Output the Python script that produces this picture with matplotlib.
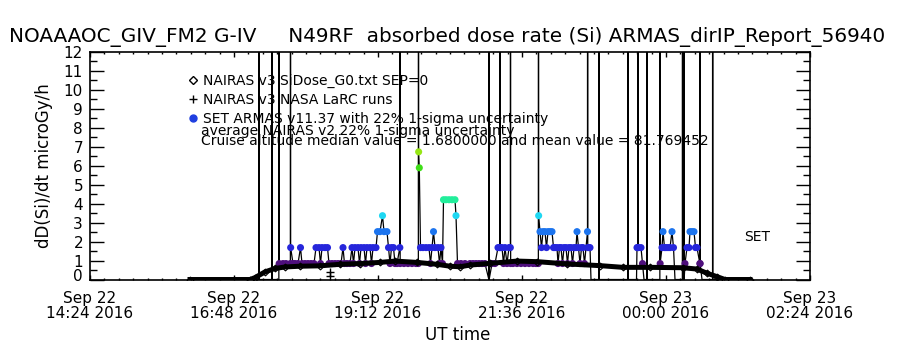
import numpy as np
import matplotlib
matplotlib.use("Agg")
import matplotlib.pyplot as plt
import matplotlib.dates as mdates
import matplotlib.transforms as mtransforms
from matplotlib.colors import LinearSegmentedColormap, Normalize
from matplotlib.lines import Line2D
from datetime import datetime

# ARMAS SET dose rate, minutes after 2016-09-22 14:24 UT (microGy/h, off-scale spikes included)
armas_min = [
    160, 168.85, 169, 169.15, 181.85, 182, 182.15, 188.85, 189, 189.15,
    193, 196, 200.35, 200.5, 200.65, 203, 205, 208, 210.5, 212, 215, 218, 221, 224,
    226, 229, 230.5, 232, 235, 237.5, 239, 242, 245, 248, 251, 253, 254.5, 257, 260,
    262, 263.5, 265, 268, 269.5, 271, 274, 275.5, 277, 280, 281.5, 283, 286,
    287.5, 290, 292.5, 294, 297, 298.5, 300, 301.5, 303.5, 305, 307, 309.85, 310, 310.15,
    314, 318, 322, 326, 328.35, 328.5, 328.65, 329.3, 330.5, 333, 336, 339, 340.5, 342, 343.5,
    345, 348, 349.5, 351, 352.5, 353.5, 356, 359, 362, 365, 366, 367.5,
    371, 375, 380, 383, 386, 389, 392, 395, 398.85, 399, 399.15,
    402, 405, 408, 409.85, 410, 410.15, 412, 413.5, 415, 417, 419, 420.35, 420.5, 420.65, 423,
    427, 431, 435, 439, 443, 446, 448.35, 448.5, 448.65, 450, 451.5, 453, 455, 456.5,
    458, 460, 462, 463.5, 465, 467, 468, 469.5, 471, 472.5, 474, 476, 477.5, 479,
    481, 482.5, 484, 486, 487, 488.5, 490, 491.5, 493, 494.5, 497.5, 497.6, 497.75, 499, 500, 501,
    508.85, 509, 509.15, 537.85, 538, 538.15,
    546.5, 547, 547.85, 548, 548.15, 551, 552.5, 554, 556.85, 557, 557.15,
    569.85, 570, 570.15, 572, 573, 574.5, 576, 578, 580, 582, 583.5, 585,
    592.35, 592.5, 592.65, 593.85, 594, 594.15, 595, 597, 599, 600, 602, 604, 605.5, 607, 609.85,
    610, 610.15, 612, 622.55, 622.7, 622.85, 640,
]
armas_dose = [
    0, 0, 1000, 0, 0, 1000, 0, 0, 1000, 0.84,
    0.84, 0.84, 0.84, 1000, 1.68, 0.84, 0.84, 0.84, 1.68, 0.84, 0.84, 0.84, 0.84, 0.84,
    1.68, 1.68, 0.84, 1.68, 1.68, 1.68, 0.84, 0.84, 0.84, 0.84, 0.84, 1.68, 0.84, 0.84, 0.84,
    1.68, 0.84, 1.68, 1.68, 0.84, 1.68, 1.68, 0.84, 1.68, 1.68, 0.84, 1.68, 1.68,
    2.52, 2.52, 3.36, 2.52, 2.52, 1.68, 0.84, 1.68, 1.68, 0.84, 0.84, 1.68, 1000, 0.84,
    0.84, 0.84, 0.84, 0.84, 0.84, 1000, 6.72, 5.88, 1.68, 1.68, 1.68, 1.68, 0.84, 1.68, 2.52,
    1.68, 1.68, 0.84, 1.68, 0.84, 4.2, 4.2, 4.2, 4.2, 4.2, 3.36, 0.84,
    0.84, 0.84, 0.84, 0.84, 0.84, 0.84, 0.84, 0.84, 0, 1000, 0,
    0.84, 0.84, 1.68, 1.68, 1000, 1.68, 1.68, 0.84, 1.68, 0.84, 1.68, 1.68, 1000, 0.84, 0.84,
    0.84, 0.84, 0.84, 0.84, 0.84, 0.84, 0.84, 1000, 3.36, 2.52, 1.68, 2.52, 2.52, 1.68,
    2.52, 2.52, 2.52, 1.68, 1.68, 1.68, 0.84, 1.68, 1.68, 0.84, 1.68, 1.68, 0.84, 1.68,
    1.68, 0.84, 1.68, 1.68, 2.52, 1.68, 0.84, 1.68, 1.68, 0.84, 2.52, 1000, 1.68, 1.68, 1.68, 0,
    0, 1000, 0, 0, 1000, 0,
    0, 1.68, 1.68, 1000, 1.68, 1.68, 0.84, 0, 0, 1000, 0,
    0, 1000, 0.84, 1.68, 2.52, 1.68, 1.68, 1.68, 1.68, 2.52, 1.68, 0,
    0, 1000, 0, 0, 1000, 0, 0.84, 1.68, 1.68, 2.52, 2.52, 2.52, 1.68, 1.68, 0.84,
    1000, 0.84, 0, 0, 1000, 0, 0,
]

# NAIRAS v3 model curve
model_min = [100, 160, 165, 175, 185, 195, 210, 230, 250, 270, 290, 305, 327, 347, 360,
             370, 380, 400, 427, 447, 477, 510, 533, 560, 593, 607, 617, 627, 635, 660]
model_dose = [0, 0, 0.1, 0.4, 0.58, 0.66, 0.7, 0.72, 0.8, 0.84, 0.9, 0.97, 0.9, 0.8, 0.7,
              0.67, 0.76, 0.85, 0.97, 0.94, 0.82, 0.73, 0.64, 0.64, 0.62, 0.55, 0.33, 0.15, 0, 0]

# NASA LaRC runs
larc_min = [240, 240]
larc_dose = [0.42, 0.18]

t0 = mdates.date2num(datetime(2016, 9, 22, 14, 24))


def to_date(minutes):
    return t0 + np.asarray(minutes, dtype=float) / 1440.0


plt.rcParams['font.family'] = ['DejaVu Sans']

fig = plt.figure(figsize=(9, 3.5), dpi=100)
ax = fig.add_axes([0.1, 0.2014, 0.8, 0.6514])

# rainbow-like colour scale for the ARMAS points
cmap = LinearSegmentedColormap.from_list("armas", [
    (0.0, "#4e0f7c"), (0.1429, "#2626dc"), (0.2857, "#1c74ee"),
    (0.4286, "#1ed8f2"), (0.5714, "#22ee9c"), (0.857, "#3ede18"), (1.0, "#96e614")])
norm = Normalize(0.84, 6.72)

at = to_date(armas_min)
av = np.array(armas_dose, dtype=float)
ax.plot(at, av, color="black", lw=0.9, zorder=2)
on = (av > 0) & (av < 12)
ax.scatter(at[on], av[on], c=av[on], cmap=cmap, norm=norm, s=26,
           linewidths=0, zorder=3)

ax.plot(to_date(model_min), model_dose, color="black", lw=3.6, marker="D", ms=3.5,
        mfc="none", mec="black", mew=0.8, zorder=4)
ax.plot(to_date(larc_min), larc_dose, ls="none", marker="+", ms=6, color="black",
        mew=1, zorder=5)

ax.set_xlim(t0, t0 + 0.5)
ax.set_ylim(0, 12)
ax.xaxis.set_major_locator(plt.MultipleLocator(0.1))
ax.xaxis.set_minor_locator(plt.MultipleLocator(0.01))
ax.xaxis.set_major_formatter(mdates.DateFormatter("%b %d\n%H:%M %Y"))
ax.yaxis.set_major_locator(plt.MultipleLocator(1))
ax.yaxis.set_minor_locator(plt.MultipleLocator(0.5))

ax.tick_params(which="both", direction="in", top=True, right=True, width=1)
ax.tick_params(axis="x", which="major", length=3.3, labelsize=11, pad=8.5)
ax.tick_params(axis="x", which="minor", length=1.7)
ax.tick_params(axis="y", which="major", length=10.4, labelsize=11, pad=5)
ax.tick_params(axis="y", which="minor", length=5.2)
for lab in ax.get_xticklabels():
    lab.set_linespacing(1.0)
for sp in ax.spines.values():
    sp.set_linewidth(1.2)

ax.set_ylabel("dD(Si)/dt microGy/h", fontsize=12)
ax.yaxis.set_label_coords(-0.051, 0.5)
ax.set_xlabel("UT time", fontsize=12)
ax.xaxis.set_label_coords(0.511, -0.204)

handles = [
    Line2D([], [], ls="none", marker="D", ms=4, mfc="none", mec="black", mew=1),
    Line2D([], [], ls="none", marker="+", ms=6, color="black", mew=1),
    Line2D([], [], ls="none", marker="o", ms=5, color="#1f3fe0"),
]
labels = ["NAIRAS v3 SiDose_G0.txt SEP=0", "NAIRAS v3 NASA LaRC runs",
          "SET ARMAS v11.37 with 22% 1-sigma uncertainty"]
ax.legend(handles, labels, loc="upper left", bbox_to_anchor=(0.137, 0.9),
          frameon=False, fontsize=10, handlelength=0.6, handletextpad=0.4,
          labelspacing=0.33, borderpad=0, borderaxespad=0)
ax.text(0.154, 0.651, "average NAIRAS v2 22% 1-sigma uncertainty", transform=ax.transAxes,
        fontsize=10, va="center", ha="left")
ax.text(0.154, 0.607, "Cruise altitude median value = 1.6800000 and mean value = 81.769452",
        transform=ax.transAxes, fontsize=10, va="center", ha="left")
ax.text(0.926, 0.186, "SET", transform=ax.transAxes, fontsize=10, va="center", ha="center")

fig.text(0.497, 0.894,
         "NOAAAOC_GIV_FM2 G-IV     N49RF  absorbed dose rate (Si) ARMAS_dirIP_Report_56940",
         ha="center", va="center", fontsize=14.4)

# the zero label sits a few pixels above its tick, as in the original plot
fig.canvas.draw()
lift = mtransforms.ScaledTranslation(0, 3.4 / 72, fig.dpi_scale_trans)
for tick in ax.yaxis.get_major_ticks():
    if abs(tick.get_loc()) < 1e-9:
        tick.label1.set_transform(tick.label1.get_transform() + lift)

fig.savefig("out.png", dpi=100)
